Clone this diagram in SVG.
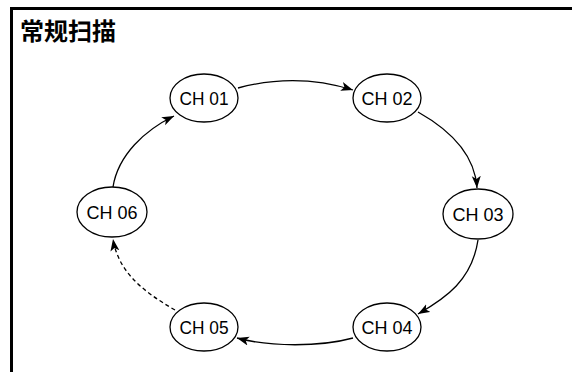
<svg xmlns="http://www.w3.org/2000/svg" width="572" height="372" viewBox="0 0 572 372">
<defs>
<style>
.node ellipse{fill:#fff;stroke:#000;stroke-width:1.3}
.node text{font-family:"Liberation Sans",Arial,sans-serif;font-size:19px;fill:#000;text-anchor:middle}
.edge{fill:none;stroke:#000;stroke-width:1.3}
.dash{stroke-dasharray:4 3}
.title{font-family:"Noto Sans CJK SC","Noto Sans CJK TC",sans-serif;font-weight:bold;font-size:24px;fill:#000}
</style>
<marker id="arr" markerUnits="userSpaceOnUse" markerWidth="13" markerHeight="10" refX="12" refY="4.5" orient="auto">
<path d="M0,0 L12,4.5 L0,9 L3,4.5 Z" fill="#000"/>
</marker>
</defs>
<rect x="0" y="0" width="572" height="372" fill="#fff"/>
<path d="M11.5,372 V8.5 H572" fill="none" stroke="#000" stroke-width="3"/>
<text class="title" x="20" y="40">常规扫描</text>
<g id="connectors">
<path class="edge" d="M238,88 C275,78 315,78 353,90" marker-end="url(#arr)"/>
<path class="edge" d="M418,112 C450,130 475,155 477,188" marker-end="url(#arr)"/>
<path class="edge" d="M478,240 C472,280 446,298 418,314" marker-end="url(#arr)"/>
<path class="edge" d="M353,338 C320,347 270,347 237,338" marker-end="url(#arr)"/>
<path class="edge dash" d="M175,310 C140,290 118,270 113,239" marker-end="url(#arr)"/>
<path class="edge" d="M113,187 C118,155 145,130 174,116" marker-end="url(#arr)"/>
</g>
<g id="ch01" class="node"><ellipse cx="204" cy="98" rx="34" ry="24"/><text x="204" y="105" textLength="49" lengthAdjust="spacingAndGlyphs">CH 01</text></g>
<g id="ch02" class="node"><ellipse cx="387" cy="98" rx="34" ry="24"/><text x="387" y="105" textLength="51" lengthAdjust="spacingAndGlyphs">CH 02</text></g>
<g id="ch03" class="node"><ellipse cx="478" cy="214" rx="35" ry="25"/><text x="478" y="221" textLength="51" lengthAdjust="spacingAndGlyphs">CH 03</text></g>
<g id="ch04" class="node"><ellipse cx="387" cy="327" rx="34" ry="24"/><text x="387" y="334" textLength="51" lengthAdjust="spacingAndGlyphs">CH 04</text></g>
<g id="ch05" class="node"><ellipse cx="204" cy="327" rx="34" ry="24"/><text x="204" y="334" textLength="49" lengthAdjust="spacingAndGlyphs">CH 05</text></g>
<g id="ch06" class="node"><ellipse cx="112" cy="212" rx="35" ry="25"/><text x="112" y="219" textLength="51" lengthAdjust="spacingAndGlyphs">CH 06</text></g>
</svg>
